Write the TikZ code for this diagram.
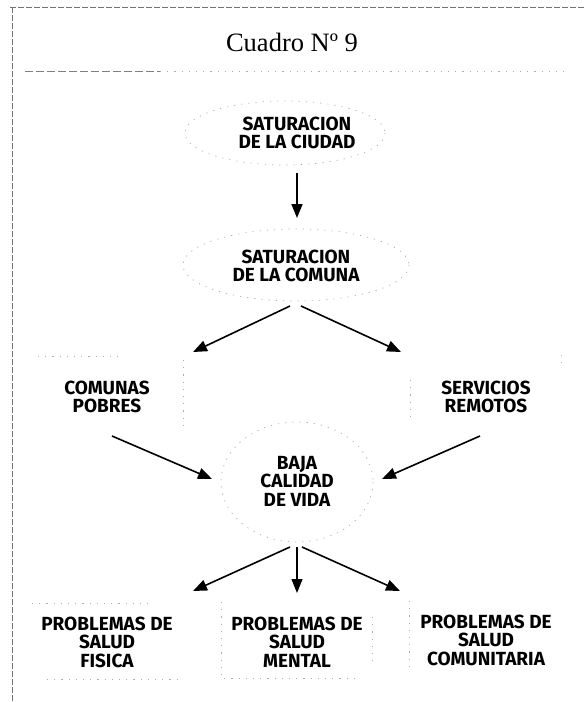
\documentclass[tikz,border=0pt]{standalone}
\usepackage{fontspec}
\setmainfont{Fira Sans}
\newfontfamily\titlefont{Liberation Serif}
\usetikzlibrary{arrows.meta}
\tikzset{
  lbl/.style={align=center, inner sep=0pt, font=\fontsize{19}{18.5}\selectfont\bfseries},
  arr/.style={line width=1.6pt, -{Triangle[length=14pt,width=11pt]}},
  faint/.style={draw=black!32, line width=0.7pt, dash pattern=on 1.2pt off 6pt},
  framel/.style={draw=black!55, line width=0.8pt, dash pattern=on 6pt off 2pt},
}
\begin{document}
\begin{tikzpicture}[x=1pt,y=-1pt]
\useasboundingbox (0,0) rectangle (584,702);
% frame
\draw[framel] (10,7) -- (584,7);
\draw[framel] (12,7) -- (12,702);
\draw[faint, draw=black!50, dash pattern=on 8pt off 3pt] (25,71) -- (160,71);
\draw[faint] (160,71) -- (565,71);
% title
\node[font=\titlefont\fontsize{26.5}{30}\selectfont, inner sep=0pt] (title) at (292,42) {Cuadro Nº 9};
% faint shapes
\draw[faint] (285,133) ellipse [x radius=100, y radius=32];
\draw[faint] (296,265) ellipse [x radius=113, y radius=36];
\draw[faint] (297,482) ellipse [x radius=76, y radius=60];
\draw[faint] (38,356) -- (120,356);
\draw[faint] (183,360) -- (183,430);
\draw[faint] (410,380) -- (410,420);
\draw[faint] (561,355) -- (561,368);
\draw[faint] (32,603) -- (153,603);
\draw[faint] (47,679) -- (182,679);
\draw[faint] (221,602) -- (221,678) -- (357,678);
\draw[faint] (372,617) -- (372,667);
\draw[faint] (409,601) -- (409,672);
% text nodes
\node[lbl] (ciudad) at (297,133) {SATURACION\\DE LA CIUDAD};
\node[lbl] (comuna) at (296,266) {SATURACION\\DE LA COMUNA};
\node[lbl] (pobres) at (107,397) {COMUNAS\\POBRES};
\node[lbl] (remotos) at (486,397) {SERVICIOS\\REMOTOS};
\node[lbl] (baja) at (297,481) {BAJA\\CALIDAD\\DE VIDA};
\node[lbl] (fisica) at (107,642) {PROBLEMAS DE\\SALUD\\FISICA};
\node[lbl] (mental) at (297,642) {PROBLEMAS DE\\SALUD\\MENTAL};
\node[lbl] (comunit) at (486,640) {PROBLEMAS DE\\SALUD\\COMUNITARIA};
% connector ends
\coordinate (c1s) at (297,173); \coordinate (c1e) at (297,218);
\coordinate (c2s) at (290,306); \coordinate (c2e) at (193,352);
\coordinate (c3s) at (301,306); \coordinate (c3e) at (401,352);
\coordinate (p1s) at (112,436); \coordinate (p1e) at (212,479);
\coordinate (r1s) at (480,436); \coordinate (r1e) at (382,479);
\coordinate (b1s) at (290,547); \coordinate (b1e) at (193,591);
\coordinate (b2s) at (297,547); \coordinate (b2e) at (297,593);
\coordinate (b3s) at (302,547); \coordinate (b3e) at (400,591);
% connectors
\draw[arr] (c1s) -- (c1e);
\draw[arr] (c2s) -- (c2e);
\draw[arr] (c3s) -- (c3e);
\draw[arr] (p1s) -- (p1e);
\draw[arr] (r1s) -- (r1e);
\draw[arr] (b1s) -- (b1e);
\draw[arr, line width=1.2pt] (b2s) -- (b2e);
\draw[arr] (b3s) -- (b3e);
\end{tikzpicture}
\end{document}
